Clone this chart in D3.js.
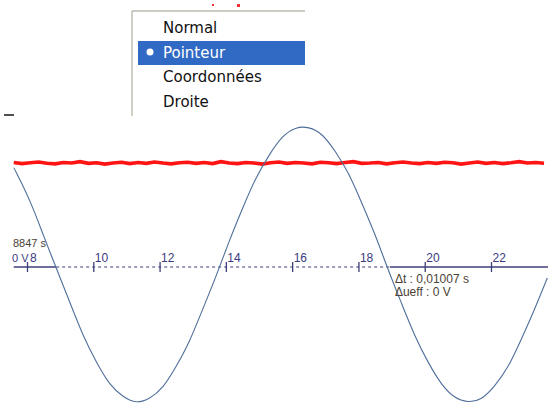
<!DOCTYPE html>
<html>
<head>
<meta charset="utf-8">
<script src="https://cdn.jsdelivr.net/npm/d3@7"></script>
<style>
  body { margin: 0; background: #fff; }
  svg { display: block; }
  .menu-item { font-family: "DejaVu Sans", sans-serif; font-size: 15px; fill: #111; }
  .tick-label { font-family: "Liberation Sans", Arial, sans-serif; font-size: 12px; fill: #3a3a80; }
  .cursor-text { font-family: "Liberation Sans", Arial, sans-serif; font-size: 12px; fill: #4a4236; }
</style>
</head>
<body>
<div id="chart"></div>
<script>
// Data (time in ms, voltage in V)

const menuItems = ["Normal", "Pointeur", "Coordonnées", "Droite"];
const selectedItem = "Pointeur";

const tickValues = [8, 10, 12, 14, 16, 18, 20, 22];
const tickLabels = ["8", "10", "12", "14", "16", "18", "20", "22"];

const blueTimes = [7.6, 7.7, 8.1, 8.5, 8.9, 9.3, 9.7, 10.1, 10.5, 10.9, 11.3, 11.7, 12.1, 12.5,
    12.9, 13.3, 13.7, 14.1, 14.5, 14.9, 15.3, 15.7, 16.1, 16.5, 16.9, 17.3, 17.7, 18.1,
    18.5, 18.9, 19.3, 19.7, 20.1, 20.5, 20.9, 21.3, 21.7, 22.1, 22.5, 22.9, 23.3, 23.7];
const blueValues = [3.61, 3.38, 2.36, 1.14, -0.09, -1.31, -2.49, -3.46, -4.24, -4.70, -4.90, -4.76,
    -4.35, -3.61, -2.69, -1.54, -0.34, 0.93, 2.12, 3.20, 4.05, 4.71, 5.04, 5.06, 4.80, 4.20,
    3.39, 2.33, 1.17, -0.10, -1.32, -2.48, -3.45, -4.23, -4.72, -4.89, -4.78, -4.33, -3.64,
    -2.66, -1.57, -0.40];

// red channel, one sample every 0.25 ms from 7.6 ms
const redStart = 7.6;
const redStep = 0.25;
const redValues = [3.80, 3.76, 3.79, 3.82, 3.77, 3.75, 3.80, 3.78, 3.83, 3.77,
    3.79, 3.74, 3.78, 3.81, 3.76, 3.80, 3.77, 3.82, 3.78, 3.75,
    3.79, 3.81, 3.77, 3.80, 3.76, 3.83, 3.78, 3.76, 3.80, 3.78,
    3.74, 3.79, 3.82, 3.77, 3.80, 3.78, 3.75, 3.81, 3.79, 3.76,
    3.80, 3.83, 3.77, 3.78, 3.80, 3.75, 3.79, 3.82, 3.78, 3.76,
    3.80, 3.77, 3.81, 3.79, 3.74, 3.78, 3.82, 3.77, 3.80, 3.76,
    3.79, 3.83, 3.78, 3.80, 3.77];

const cursorTimes = [8.88, 18.95];
const cursorTopText = "8847 s";
const cursorLeftText = "0 V";
const deltaTexts = ["Δt : 0,01007 s", "Δueff : 0 V"];

const width = 548;
const height = 403;

const svg = d3.select("#chart")
    .append("svg")
    .attr("width", width)
    .attr("height", height);

const xScale = d3.scaleLinear()
    .domain([8, 22])
    .range([27, 491]);

const yScale = d3.scaleLinear()
    .domain([-6, 6])
    .range([432, 102]);

const axisY = yScale(0);
const navy = "#3e3e78";

// red trace
const redData = redValues.map((v, i) => ({ t: redStart + i * redStep, v }));

svg.append("path")
    .attr("d", d3.line().x(d => xScale(d.t)).y(d => yScale(d.v))(redData))
    .attr("fill", "none")
    .attr("stroke", "#ff1414")
    .attr("stroke-width", 3.6);

// time axis: solid outside the cursors, dashed between them
const x0 = xScale(redStart);
const c1 = xScale(cursorTimes[0]);
const c2 = xScale(cursorTimes[1]);

svg.append("line")
    .attr("x1", x0).attr("x2", c1)
    .attr("y1", axisY).attr("y2", axisY)
    .attr("stroke", navy).attr("stroke-width", 1.4);

svg.append("line")
    .attr("x1", c1).attr("x2", c2)
    .attr("y1", axisY).attr("y2", axisY)
    .attr("stroke", navy).attr("stroke-width", 1.2)
    .attr("stroke-dasharray", "3,3");

svg.append("line")
    .attr("x1", c2).attr("x2", width)
    .attr("y1", axisY).attr("y2", axisY)
    .attr("stroke", navy).attr("stroke-width", 1.4);

const axis = svg.append("g")
    .attr("transform", `translate(0, ${axisY})`)
    .call(d3.axisBottom(xScale)
        .tickValues(tickValues)
        .tickFormat((d, i) => tickLabels[i])
        .tickSizeOuter(0));

axis.select(".domain").remove();
axis.attr("font-family", null).attr("font-size", null);
axis.selectAll(".tick line")
    .attr("y1", -5)
    .attr("y2", 5)
    .attr("stroke", navy)
    .attr("stroke-width", 1.3);
axis.selectAll(".tick text")
    .attr("class", "tick-label")
    .attr("x", d => d === 8 ? 2.5 : 1)
    .attr("y", -5)
    .attr("dy", 0)
    .attr("text-anchor", "start")
    .attr("fill", null);

// blue trace
const blueData = blueTimes.map((t, i) => ({ t, v: blueValues[i] }));

svg.append("path")
    .attr("d", d3.line()
        .x(d => xScale(d.t))
        .y(d => yScale(d.v))
        .curve(d3.curveNatural)(blueData))
    .attr("fill", "none")
    .attr("stroke", "#4f6f9b")
    .attr("stroke-width", 1.1);

// cursor read-outs
svg.append("text")
    .attr("class", "cursor-text")
    .attr("x", 13).attr("y", 247)
    .style("font-size", "11px")
    .text(cursorTopText);

svg.append("text")
    .attr("class", "tick-label")
    .attr("x", 12).attr("y", 262)
    .style("font-size", "11px")
    .text(cursorLeftText);

svg.selectAll(".delta")
    .data(deltaTexts)
    .join("text")
    .attr("class", "cursor-text")
    .attr("x", c2 + 5)
    .attr("y", (d, i) => 283 + i * 13)
    .text(d => d);

// context menu
const menu = svg.append("g");

menu.append("line")
    .attr("x1", 132).attr("x2", 305)
    .attr("y1", 11).attr("y2", 11)
    .attr("stroke", "#bdb9ad").attr("stroke-width", 1.6);

menu.append("line")
    .attr("x1", 132).attr("x2", 132)
    .attr("y1", 11).attr("y2", 116)
    .attr("stroke", "#bdb9ad").attr("stroke-width", 1.4);

menu.append("rect")
    .attr("x", 138).attr("y", 41)
    .attr("width", 167).attr("height", 24)
    .attr("fill", "#316ac5");

menu.selectAll(".menu-item")
    .data(menuItems)
    .join("text")
    .attr("class", "menu-item")
    .attr("x", 163)
    .attr("y", (d, i) => 33 + i * 24.7)
    .style("fill", d => d === selectedItem ? "#fff" : null)
    .text(d => d);

menu.append("circle")
    .attr("cx", 150).attr("cy", 52)
    .attr("r", 3.5)
    .attr("fill", "#fff");

// stray marks
svg.append("rect").attr("x", 212).attr("y", 4).attr("width", 2).attr("height", 2).attr("fill", "#e33");
svg.append("rect").attr("x", 237).attr("y", 4).attr("width", 3).attr("height", 3).attr("fill", "#e33");
svg.append("line")
    .attr("x1", 4).attr("x2", 14)
    .attr("y1", 115).attr("y2", 115)
    .attr("stroke", "#222").attr("stroke-width", 1.6);
</script>
</body>
</html>
